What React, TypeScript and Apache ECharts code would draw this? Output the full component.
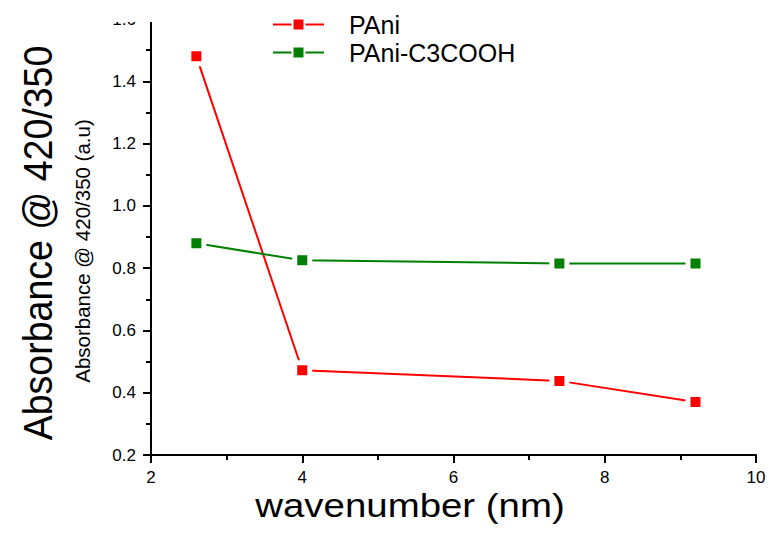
import React, { useEffect, useRef } from "react";
import * as echarts from "echarts";

const xPAni = [2.6, 4, 7.4, 9.2];
const yPAni = [1.48, 0.472, 0.438, 0.37];
const xC3 = [2.6, 4, 7.4, 9.2];
const yC3 = [0.88, 0.825, 0.815, 0.815];
const seriesNames = ["PAni", "PAni-C3COOH"];

const FONT = "'Liberation Sans', Arial, sans-serif";

export default function App() {
  const ref = useRef<HTMLDivElement>(null);
  useEffect(() => {
    if (!ref.current) return;
    const chart = echarts.init(ref.current, null, { renderer: "svg" });
    const axisCommon = {
      axisLine: { show: true, lineStyle: { color: "#000", width: 2 } },
      axisTick: { show: true, inside: false, length: 8, lineStyle: { color: "#000", width: 2 } },
      minorTick: { show: true, splitNumber: 2, length: 5, lineStyle: { color: "#000", width: 2 } },
      splitLine: { show: false },
      axisLabel: { color: "#000", fontSize: 17, fontFamily: FONT },
    };
    const mk = (name: string, xs: number[], ys: number[], color: string) => ({
      name,
      type: "line",
      data: xs.map((x, i) => [x, ys[i]]),
      symbol: "rect",
      symbolSize: 15,
      lineStyle: { color, width: 2 },
      itemStyle: { color, borderColor: "#fff", borderWidth: 5 },
    });
    chart.setOption({
      animation: false,
      backgroundColor: "#fff",
      textStyle: { fontFamily: FONT },
      grid: { left: 151, right: 15, top: 19, bottom: 78, containLabel: false },
      legend: {
        orient: "vertical",
        left: 272,
        top: 12,
        padding: 0,
        itemWidth: 51,
        itemHeight: 15,
        itemGap: 3,
        textStyle: {
          fontSize: 25,
          lineHeight: 24,
          color: "#000",
          fontFamily: FONT,
          padding: [0, 0, 0, 20],
        },
        data: seriesNames,
      },
      xAxis: {
        type: "value",
        min: 2,
        max: 10,
        interval: 2,
        ...axisCommon,
        axisLabel: { ...axisCommon.axisLabel, margin: 14 },
      },
      yAxis: {
        type: "value",
        min: 0.2,
        max: 1.6,
        interval: 0.2,
        ...axisCommon,
        axisLabel: {
          ...axisCommon.axisLabel,
          margin: 15,
          formatter: (v: number) => v.toFixed(1),
        },
      },
      series: [
        mk(seriesNames[0], xPAni, yPAni, "#ff0000"),
        mk(seriesNames[1], xC3, yC3, "#008000"),
      ],
      graphic: [
        {
          type: "rect",
          shape: { x: 100, y: 0, width: 60, height: 22 },
          style: { fill: "#fff" },
          z: 100,
        },
        {
          type: "text",
          x: 37,
          y: 243,
          rotation: Math.PI / 2,
          scaleY: 1.1,
          style: {
            text: "Absorbance @ 420/350",
            fontSize: 37.5,
            fontFamily: FONT,
            fill: "#000",
            align: "center",
            verticalAlign: "middle",
          },
        },
        {
          type: "text",
          x: 82,
          y: 251,
          rotation: Math.PI / 2,
          style: {
            text: "Absorbance @ 420/350 (a.u)",
            fontSize: 20.5,
            fontFamily: FONT,
            fill: "#000",
            align: "center",
            verticalAlign: "middle",
          },
        },
        {
          type: "text",
          x: 410,
          y: 505,
          scaleX: 1.13,
          style: {
            text: "wavenumber (nm)",
            fontSize: 34,
            fontFamily: FONT,
            fill: "#000",
            align: "center",
            verticalAlign: "middle",
          },
        },
      ],
    });
    return () => chart.dispose();
  }, []);
  return <div ref={ref} style={{ width: 771, height: 533, position: "absolute", left: 0, top: 0 }} />;
}
